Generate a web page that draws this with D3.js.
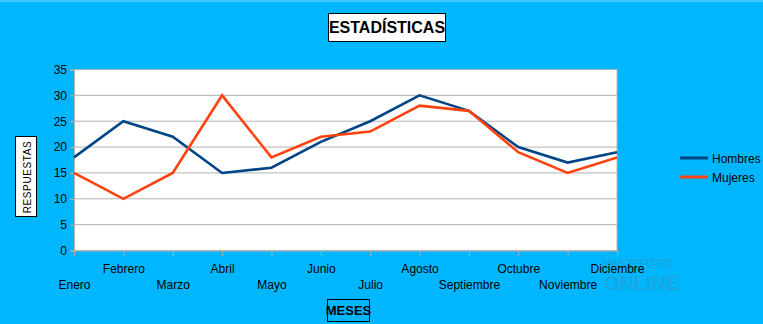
<!DOCTYPE html>
<html><head><meta charset="utf-8">
<script src="https://cdn.jsdelivr.net/npm/d3@7"></script>
<style>body{margin:0;background:#00b7ff;}svg{display:block;}</style>
</head><body>
<script>
const months = ["Enero","Febrero","Marzo","Abril","Mayo","Junio","Julio","Agosto","Septiembre","Octubre","Noviembre","Diciembre"];
const hombres = [18,25,22,15,16,21,25,30,27,20,17,19];
const mujeres = [15,10,15,30,18,22,23,28,27,19,15,18];
const yTicks = [0,5,10,15,20,25,30,35];
const seriesNames = ["Hombres","Mujeres"];
const colors = ["#004586","#ff420e"];

const W=763,H=324;
const svg=d3.select("body").append("svg").attr("width",W).attr("height",H);
svg.append("rect").attr("width",W).attr("height",H).attr("fill","#00b7ff");
svg.append("line").attr("x1",0).attr("x2",W).attr("y1",1).attr("y2",1).attr("stroke","#7fd8ff").attr("stroke-width",1);

const L=74,R=617,T=69.5,B=250.5;
const x=d3.scalePoint().domain(months).range([L,R]);
const y=d3.scaleLinear().domain([0,35]).range([B,T]);

const font="'Liberation Sans',Arial,sans-serif";

// watermark (behind)
const wm=svg.append("g").attr("fill","#1aa6e0").attr("font-family",font).attr("font-weight","bold");
wm.append("text").attr("x",605).attr("y",254).attr("font-size",11).text("TU");
wm.append("text").attr("x",604).attr("y",268).attr("font-size",13).text("INSTITUTO");
wm.append("text").attr("x",604).attr("y",290).attr("font-size",20).text("ONLINE");

svg.append("rect").attr("x",L).attr("y",T).attr("width",R-L).attr("height",B-T).attr("fill","#fff");
svg.append("g").selectAll("line").data(yTicks).join("line")
 .attr("x1",L).attr("x2",R).attr("y1",d=>y(d)).attr("y2",d=>y(d)).attr("stroke","#b3b3b3");
svg.append("line").attr("x1",R).attr("x2",R).attr("y1",T).attr("y2",B).attr("stroke","#b3b3b3");

const ya=svg.append("g").attr("transform",`translate(${L},0)`)
 .call(d3.axisLeft(y).tickValues(yTicks).tickSize(4).tickPadding(3));
ya.select(".domain").attr("stroke","#b3b3b3");
ya.selectAll(".tick line").attr("stroke","#b3b3b3");
ya.selectAll("text").attr("font-family",font).attr("font-size",12).attr("fill","#000");

const xa=svg.append("g").attr("transform",`translate(0,${B})`)
 .call(d3.axisBottom(x).tickSize(5).tickSizeOuter(0));
xa.select(".domain").attr("stroke","#b3b3b3");
xa.selectAll(".tick line").attr("stroke","#b3b3b3");
xa.selectAll("text").attr("font-family",font).attr("font-size",12).attr("fill","#000")
 .attr("dy",null).attr("y",(d,i)=> i%2===0?38:22);

const line=d3.line().x((d,i)=>x(months[i])).y(d=>y(d));
[hombres,mujeres].forEach((s,k)=>{
 svg.append("path").datum(s).attr("d",line).attr("fill","none")
  .attr("stroke",colors[k]).attr("stroke-width",2.6).attr("stroke-linejoin","miter");
});

svg.append("rect").attr("x",328.5).attr("y",13.5).attr("width",117).attr("height",28).attr("fill","#fff").attr("stroke","#000");
svg.append("text").attr("x",387).attr("y",33).attr("text-anchor","middle")
 .attr("font-family","'Liberation Sans Narrow','Arial Narrow',"+font).attr("font-weight","bold").attr("font-size",16).text("ESTADÍSTICAS");

svg.append("rect").attr("x",15.5).attr("y",136.5).attr("width",21).attr("height",80).attr("fill","#fff").attr("stroke","#000");
svg.append("text").attr("transform","translate(30.5,177) rotate(-90)").attr("text-anchor","middle")
 .attr("font-family",font).attr("font-size",10).attr("letter-spacing",0.6).attr("fill","#000").text("RESPUESTAS");

svg.append("rect").attr("x",327.5).attr("y",299.5).attr("width",42).attr("height",22).attr("fill","#00b7ff").attr("stroke","#000");
svg.append("text").attr("x",348.5).attr("y",315).attr("text-anchor","middle")
 .attr("font-family","'Liberation Sans Narrow','Arial Narrow',"+font).attr("font-weight","bold").attr("font-size",13).attr("fill","#000").text("MESES");

const lg=svg.append("g");
seriesNames.forEach((n,k)=>{
 const yy=158+k*19;
 lg.append("line").attr("x1",680).attr("x2",708).attr("y1",yy).attr("y2",yy).attr("stroke",colors[k]).attr("stroke-width",3);
 lg.append("text").attr("x",712).attr("y",yy+4.5).attr("font-family",font).attr("font-size",12).attr("fill","#000").text(n);
});
</script>
</body></html>
